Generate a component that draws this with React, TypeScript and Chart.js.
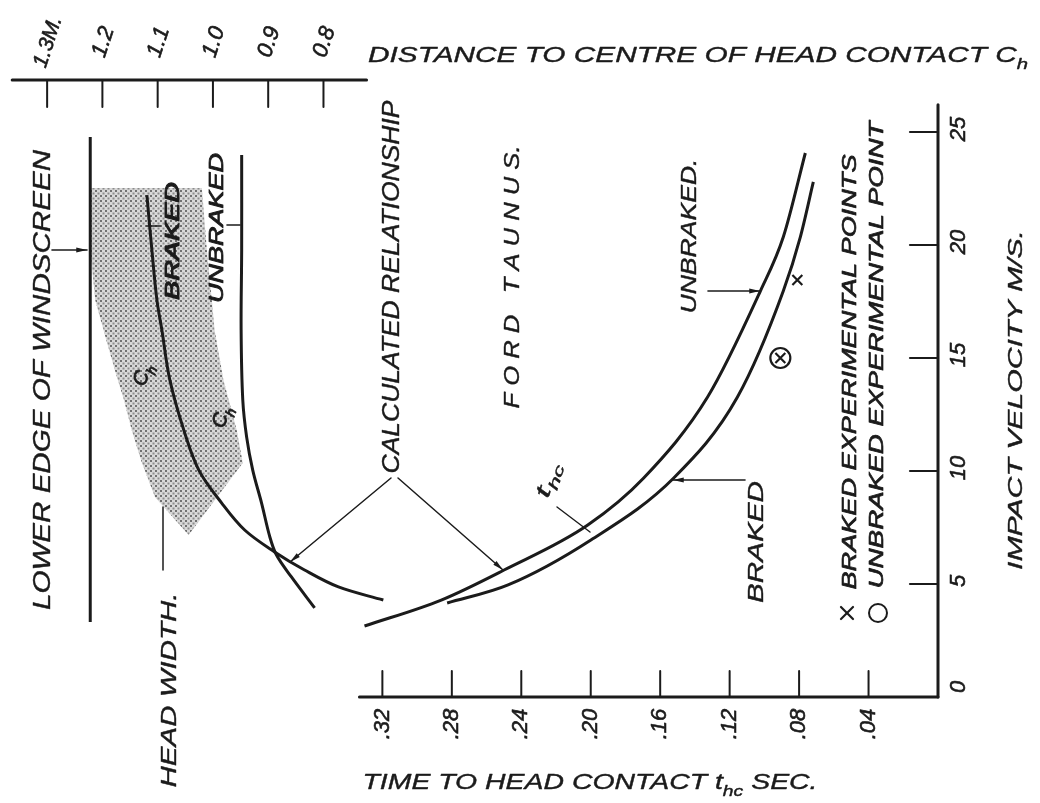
import React, { useEffect, useRef } from 'react';
import { Chart, registerables } from 'chart.js';

Chart.register(...registerables);

// ---------- axis ticks ----------
const velocityTicks = [5, 10, 15, 20, 25];
const velocityTickLabels = ['5', '10', '15', '20', '25'];
const timeTicks = [0.32, 0.28, 0.24, 0.2, 0.16, 0.12, 0.08, 0.04];
const timeTickLabels = ['.32', '.28', '.24', '.20', '.16', '.12', '.08', '.04'];
const distanceTicks = [1.3, 1.2, 1.1, 1.0, 0.9, 0.8];
const distanceTickLabels = ['1.3M.', '1.2', '1.1', '1.0', '0.9', '0.8'];

// ---------- time to head contact t_hc (s) vs impact velocity (m/s) ----------
const unbrakedTimeT = [0.3303, 0.2861, 0.2499, 0.2017, 0.1695, 0.1327, 0.1023, 0.0891, 0.0764];
const unbrakedTimeV = [3.14, 4.29, 5.62, 7.61, 9.69, 13.27, 17.96, 20.35, 24.07];
const brakedTimeT = [0.2827, 0.2476, 0.1999, 0.1522, 0.1155, 0.0891, 0.0793, 0.0718];
const brakedTimeV = [4.16, 4.96, 6.95, 9.69, 13.27, 17.96, 20.35, 22.79];

// ---------- distance to centre of head contact C_h (m) vs impact velocity ----------
const unbrakedDistC = [0.948, 0.948, 0.949, 0.946, 0.939, 0.928, 0.912, 0.897, 0.885, 0.858, 0.816];
const unbrakedDistV = [23.98, 19.78, 16.24, 13.14, 11.5, 10.04, 8.58, 7.08, 6.28, 5.31, 3.94];
const brakedDistC = [1.1195, 1.1105, 1.1014, 1.0924, 1.078, 1.0527, 1.0256, 0.9841, 0.9426, 0.8884, 0.8343, 0.7729, 0.6917];
const brakedDistV = [22.21, 19.78, 17.57, 16.24, 14.03, 11.81, 10.04, 8.58, 7.39, 6.42, 5.62, 4.87, 4.29];

// lower edge of windscreen
const windscreenC = [1.222, 1.222];
const windscreenV = [24.78, 3.32];

// head width band (closed outline)
const headWidthC = [1.222, 1.02, 1.011, 1.002, 0.997, 0.981, 0.957, 0.946, 1.044, 1.105, 1.129, 1.147, 1.161, 1.177, 1.193, 1.213, 1.222, 1.222];
const headWidthV = [22.52, 22.52, 19.78, 17.57, 16.24, 14.03, 11.81, 10.35, 7.17, 8.85, 10.4, 11.81, 13.14, 14.42, 15.8, 17.57, 19.78, 22.52];

// experimental points
const brakedExpT = [0.081, 0.0908];
const brakedExpV = [18.45, 15.0];
const unbrakedExpT = [0.0908];
const unbrakedExpV = [15.0];

const INK = '#1b1b1b';
const FONT = '"Liberation Sans", "DejaVu Sans", sans-serif';

type Part = [string, boolean?];

function pts(xs: number[], ys: number[]) {
  return xs.map((x, i) => ({ x, y: ys[i] }));
}

function makePattern(): CanvasPattern | string {
  const c = document.createElement('canvas');
  c.width = 5;
  c.height = 5;
  const g = c.getContext('2d');
  if (!g) return '#b0b0b0';
  g.fillStyle = '#d8d8d8';
  g.fillRect(0, 0, 5, 5);
  g.fillStyle = '#707070';
  g.fillRect(0, 0, 2, 2);
  g.fillStyle = '#8c8c8c';
  g.fillRect(2.5, 2.5, 2, 2);
  const p = g.createPattern(c, 'repeat');
  return p || '#b0b0b0';
}

function line(ctx: CanvasRenderingContext2D, x1: number, y1: number, x2: number, y2: number, w: number) {
  ctx.lineWidth = w;
  ctx.beginPath();
  ctx.moveTo(x1, y1);
  ctx.lineTo(x2, y2);
  ctx.stroke();
}

function arrow(ctx: CanvasRenderingContext2D, x1: number, y1: number, x2: number, y2: number, w = 1.5, head = 11) {
  line(ctx, x1, y1, x2, y2, w);
  const a = Math.atan2(y2 - y1, x2 - x1);
  ctx.beginPath();
  ctx.moveTo(x2, y2);
  ctx.lineTo(x2 - head * Math.cos(a - 0.22), y2 - head * Math.sin(a - 0.22));
  ctx.lineTo(x2 - head * Math.cos(a + 0.22), y2 - head * Math.sin(a + 0.22));
  ctx.closePath();
  ctx.fill();
}

function drawText(
  ctx: CanvasRenderingContext2D,
  parts: Part[],
  cx: number,
  cy: number,
  angleDeg: number,
  size: number,
  len?: number,
  weight = 0.4
) {
  const mainFont = `italic ${size}px ${FONT}`;
  const subFont = `italic ${Math.round(size * 0.68)}px ${FONT}`;
  let total = 0;
  const widths: number[] = [];
  for (const [t, sub] of parts) {
    ctx.font = sub ? subFont : mainFont;
    const w = ctx.measureText(t).width;
    widths.push(w);
    total += w;
  }
  const sx = len ? len / total : 1;
  ctx.save();
  ctx.translate(cx, cy);
  ctx.rotate((angleDeg * Math.PI) / 180);
  ctx.scale(sx, 1);
  ctx.textBaseline = 'middle';
  ctx.textAlign = 'left';
  ctx.lineWidth = weight;
  ctx.lineJoin = 'round';
  let x = -total / 2;
  parts.forEach(([t, sub], i) => {
    ctx.font = sub ? subFont : mainFont;
    const yy = sub ? size * 0.38 : 0;
    ctx.fillText(t, x, yy);
    if (weight > 0) ctx.strokeText(t, x, yy);
    x += widths[i];
  });
  ctx.restore();
}

const overlayPlugin = {
  id: 'overlay',
  afterDatasetsDraw(chart: any) {
    const ctx: CanvasRenderingContext2D = chart.ctx;
    const xs = chart.scales.x;
    const x2 = chart.scales.x2;
    const ys = chart.scales.y;
    const area = chart.chartArea;
    ctx.save();
    ctx.strokeStyle = INK;
    ctx.fillStyle = INK;
    ctx.lineCap = 'round';

    // velocity axis (right)
    const axisX = xs.getPixelForValue(0);
    line(ctx, axisX, ys.getPixelForValue(26.2), axisX, area.bottom, 3);
    velocityTicks.forEach((v, i) => {
      const y = ys.getPixelForValue(v);
      line(ctx, axisX - 28, y, axisX, y, 2.2);
      drawText(ctx, [[velocityTickLabels[i]]], axisX + 21, y - 3, -90, 22, undefined, 0.6);
    });
    drawText(ctx, [['0']], axisX + 21, area.bottom - 10, -90, 22, undefined, 0.6);

    // time axis (bottom)
    line(ctx, xs.getPixelForValue(0.3332), area.bottom, axisX, area.bottom, 3);
    timeTicks.forEach((t, i) => {
      const x = xs.getPixelForValue(t);
      line(ctx, x, area.bottom, x, area.bottom - 26, 2);
      drawText(ctx, [[timeTickLabels[i]]], x, area.bottom + 27, -90, 22, undefined, 0.6);
    });

    // distance axis (top)
    line(ctx, area.left, area.top, x2.getPixelForValue(0.722), area.top, 3);
    distanceTicks.forEach((c, i) => {
      const x = x2.getPixelForValue(c);
      line(ctx, x, area.top, x, area.top + 27, 2);
      drawText(ctx, [[distanceTickLabels[i]]], x + 1, area.top - 38, -72, i === 0 ? 21 : 22, undefined, 0.6);
    });

    // axis titles
    drawText(ctx, [['DISTANCE TO CENTRE OF HEAD CONTACT C'], ['h', true]], 698, 56, 0, 22, 660);
    drawText(ctx, [['TIME TO HEAD CONTACT t'], ['hc', true], [' SEC.']], 590, 783, 0, 22, 455);
    drawText(ctx, [['IMPACT VELOCITY M/S.']], 1016, 400, -90, 21, 340);

    // annotations
    drawText(ctx, [['LOWER EDGE OF WINDSCREEN']], 44, 380, -90, 23, 460);
    arrow(ctx, 52, 250, 87, 250, 1.6);
    drawText(ctx, [['HEAD WIDTH.']], 170, 690, -90, 22, 195);
    line(ctx, 163, 507, 163, 570, 1.5);
    drawText(ctx, [['CALCULATED RELATIONSHIP']], 393, 287, -90, 23, 373);
    arrow(ctx, 391, 478, 290, 562, 1.5);
    arrow(ctx, 398, 478, 503, 570, 1.5);
    drawText(ctx, [['F O R D   T A U N U S.']], 513, 277, -90, 22, 263);
    drawText(ctx, [['UNBRAKED.']], 690, 236, -90, 22, 155);
    arrow(ctx, 708, 291, 760, 291, 1.6);
    drawText(ctx, [['BRAKED']], 757, 542, -90, 22, 122);
    arrow(ctx, 745, 480, 673, 480, 1.6);
    drawText(ctx, [['t'], ['hc', true]], 548, 480, -72, 21, 36);
    line(ctx, 557, 507, 590, 532, 1.4);
    drawText(ctx, [['BRAKED']], 173, 241, -90, 20, 118, 1.0);
    line(ctx, 147, 226, 160, 226, 1.6);
    drawText(ctx, [['UNBRAKED']], 217, 228, -90, 20, 150, 0.8);
    line(ctx, 227, 225, 240, 225, 1.6);
    drawText(ctx, [['C'], ['h', true]], 143, 375, -70, 20, undefined, 0.8);
    drawText(ctx, [['C'], ['h', true]], 222, 417, -70, 20, undefined, 0.8);

    // legend
    line(ctx, 841, 607, 853, 619, 2.2);
    line(ctx, 841, 619, 853, 607, 2.2);
    drawText(ctx, [['BRAKED EXPERIMENTAL POINTS']], 850, 372, -90, 21, 435, 0.7);
    ctx.lineWidth = 2;
    ctx.beginPath();
    ctx.arc(878, 613, 9, 0, Math.PI * 2);
    ctx.stroke();
    drawText(ctx, [['UNBRAKED EXPERIMENTAL POINT']], 877, 355, -90, 21, 467, 0.7);

    ctx.restore();
  },
};

export default function App() {
  const ref = useRef<HTMLCanvasElement>(null);

  useEffect(() => {
    const canvas = ref.current;
    if (!canvas) return;
    const pattern = makePattern();
    const lineDs = (label: string, data: any[], axis: string, tension = 0.4, monotone = false) => ({
      label,
      data,
      xAxisID: axis,
      yAxisID: 'y',
      showLine: true,
      borderColor: INK,
      borderWidth: 3,
      pointRadius: 0,
      tension,
      cubicInterpolationMode: monotone ? 'monotone' : 'default',
      fill: false,
    });
    const chart = new Chart(canvas, {
      type: 'scatter',
      data: {
        datasets: [
          lineDs('Unbraked t_hc', pts(unbrakedTimeT, unbrakedTimeV), 'x', 0.4, true),
          lineDs('Braked t_hc', pts(brakedTimeT, brakedTimeV), 'x', 0.4, true),
          lineDs('Unbraked C_h', pts(unbrakedDistC, unbrakedDistV), 'x2', 0.35),
          lineDs('Braked C_h', pts(brakedDistC, brakedDistV), 'x2', 0.35),
          lineDs('Lower edge of windscreen', pts(windscreenC, windscreenV), 'x2', 0),
          {
            label: 'Braked experimental points',
            data: pts(brakedExpT, brakedExpV),
            xAxisID: 'x',
            yAxisID: 'y',
            showLine: false,
            pointStyle: 'crossRot',
            pointRadius: 7,
            borderColor: INK,
            borderWidth: 2.2,
            backgroundColor: INK,
          },
          {
            label: 'Unbraked experimental point',
            data: pts(unbrakedExpT, unbrakedExpV),
            xAxisID: 'x',
            yAxisID: 'y',
            showLine: false,
            pointStyle: 'circle',
            pointRadius: 10,
            borderColor: INK,
            borderWidth: 2.2,
            backgroundColor: 'rgba(0,0,0,0)',
          },
          {
            label: 'Head width',
            data: pts(headWidthC, headWidthV),
            xAxisID: 'x2',
            yAxisID: 'y',
            showLine: true,
            borderWidth: 0,
            borderColor: 'rgba(0,0,0,0)',
            backgroundColor: pattern as any,
            pointRadius: 0,
            tension: 0,
            fill: 'shape',
            order: 10,
          } as any,
        ],
      },
      options: {
        animation: false,
        responsive: false,
        devicePixelRatio: 1,
        layout: { padding: { left: 10, right: 102, top: 80, bottom: 106 } },
        plugins: { legend: { display: false }, tooltip: { enabled: false } },
        scales: {
          x: { type: 'linear', display: false, min: 0, max: 0.5332, reverse: true },
          x2: { type: 'linear', display: false, min: -0.3119, max: 1.3632, reverse: true },
          y: { type: 'linear', display: false, min: 0, max: 27.3 },
        },
      },
      plugins: [overlayPlugin],
    } as any);
    return () => chart.destroy();
  }, []);

  return (
    <div style={{ position: 'fixed', left: 0, top: 0, width: 1040, height: 803, background: '#ffffff' }}>
      <canvas ref={ref} width={1040} height={803} style={{ display: 'block', width: 1040, height: 803 }} />
    </div>
  );
}
